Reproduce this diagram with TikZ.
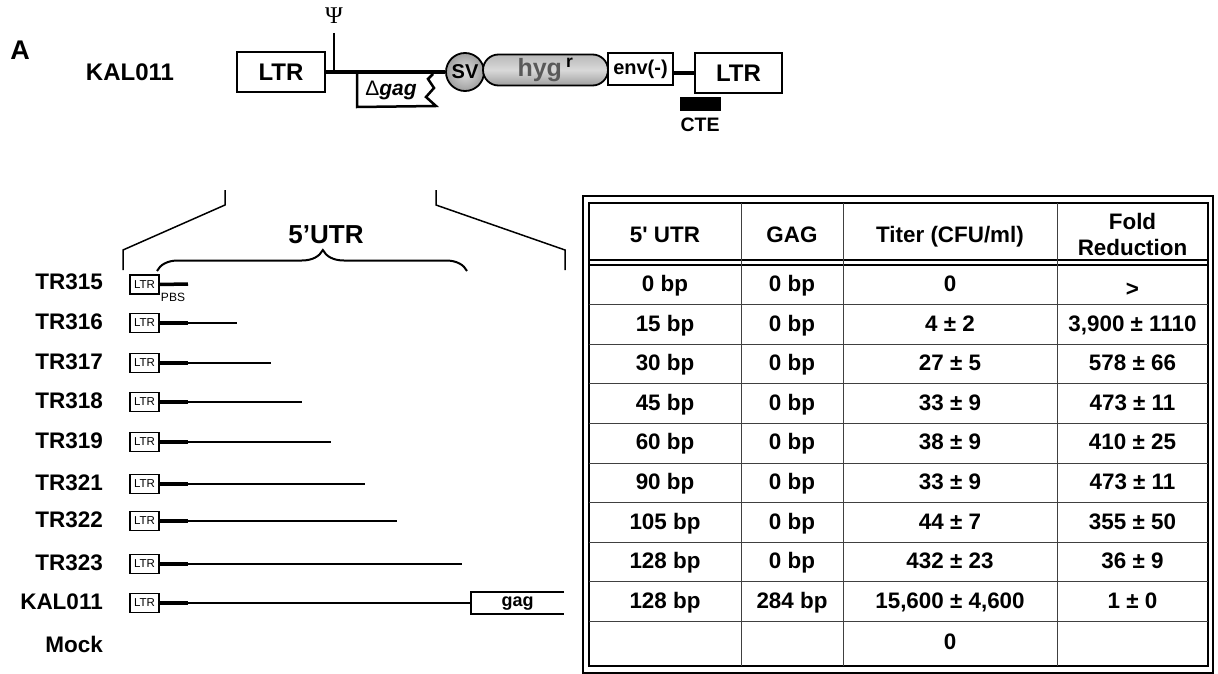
\documentclass[tikz,border=0pt]{standalone}
\usepackage{fontspec}
\setmainfont{Liberation Sans}
\newfontfamily\psifont{Liberation Serif}
\usetikzlibrary{decorations.pathreplacing,shapes.misc}
\newcommand\fsz[1]{\fontsize{#1}{#1}\selectfont}
\newcommand\tabrow[6]{%
  \node[cell] (r#1a) at (665,#2) {#3};
  \node[cell] (r#1b) at (792,#2) {#4};
  \node[cell] (r#1c) at (950,#2) {#5};
  \node[cell] (r#1d) at (1132.5,#2) {#6};
}
\tikzset{
  lab/.style={font=\fsz{22.5}\bfseries, anchor=east, inner sep=0pt},
  box/.style={draw, line width=2pt, inner sep=0pt},
  sltr/.style={draw, line width=1.5pt, minimum width=29pt, minimum height=19pt, inner sep=0pt, font=\fsz{11.5}},
  bb/.style={line width=3.5pt},
  thinl/.style={line width=1.5pt},
  cell/.style={font=\fsz{22.4}\bfseries, inner sep=0pt, text height=16pt, text depth=4.5pt},
  gridl/.style={line width=1pt, draw=black!75},
}
\begin{document}
\begin{tikzpicture}[x=1pt,y=-1pt]
\useasboundingbox (0,0) rectangle (1218,674);

% ---------- top construct ----------
\node[font=\fsz{27}\bfseries] (A) at (20,50) {A};
\node[font=\fsz{24}\bfseries] (kal) at (130,72) {KAL011};
\node[box, minimum width=88pt, minimum height=40pt, font=\fsz{24}\bfseries] (ltrL) at (281,72) {LTR};
\node[font=\psifont\fsz{24}] (psi) at (334,16) {Ψ};
\coordinate (psiT) at (334,33);
\coordinate (psiB) at (334,73);
\draw[line width=2pt] (psiT) -- (psiB);
\node[circle, draw, line width=1.8pt, minimum size=38pt, inner sep=0pt, inner color=gray!25, outer color=gray!75, font=\fsz{20}\bfseries] (sv) at (465,72) {SV};
\draw[bb] (ltrL.east) -- (sv.west);
\coordinate (g1) at (357,72);
\coordinate (g2) at (357,107);
\coordinate (g3) at (436,106);
\coordinate (g4) at (426,97);
\coordinate (g5) at (434,88);
\coordinate (g6) at (428,79);
\coordinate (g7) at (433,74);
\draw[line width=2.5pt, line join=miter] (g1) -- (g2) -- (g3) -- (g4) -- (g5) -- (g6) -- (g7);
\node[font=\fsz{21}\bfseries] (dgag) at (391,90) {{\mdseries Δ}\textit{gag}};
\node[rounded rectangle, draw, line width=1.8pt, minimum width=125pt, minimum height=31pt, inner sep=0pt, top color=gray!55, bottom color=gray!75, middle color=gray!30, font=\fsz{25}\bfseries] (hyg) at (545.5,70) {\textcolor{black!65}{hyg}\,\textsuperscript{r}};
\node[box, line width=1.8pt, minimum width=65pt, minimum height=32pt, font=\fsz{20}\bfseries] (env) at (640.5,69) {env(-)};
\node[box, minimum width=87pt, minimum height=40pt, font=\fsz{24}\bfseries] (ltrR) at (738.5,73) {LTR};
\draw[bb] (ltrR.west -| env.east) -- (ltrR.west);
\node[fill=black, minimum width=41pt, minimum height=14pt, inner sep=0pt] (cte) at (700.5,104) {};
\node[font=\fsz{19.5}\bfseries] (ctel) at (700,125) {CTE};

% ---------- zoom brackets ----------
\coordinate (bL1) at (225,190);
\coordinate (bL2) at (225,205);
\coordinate (bL3) at (123,250);
\coordinate (bL4) at (123,270);
\coordinate (bR1) at (436,190);
\coordinate (bR2) at (436,205);
\coordinate (bR3) at (565,250);
\coordinate (bR4) at (565,270);
\draw[thinl] (bL1) -- (bL2) -- (bL3) -- (bL4);
\draw[thinl] (bR1) -- (bR2) -- (bR3) -- (bR4);
\coordinate (brA) at (157,271);
\coordinate (brB) at (467,271);
\draw[line width=2pt, decorate, decoration={brace, amplitude=21pt, aspect=0.535}] (brA) -- (brB);
\node[font=\fsz{26}\bfseries] (utr) at (326,235) {5’UTR};

% ---------- constructs ----------
\node[lab] (lTR315) at (103,282) {TR315};
\node[sltr] (bTR315) at (144.5,284.5) {LTR};
\coordinate (pTR315) at (188,284);
\draw[bb] (bTR315.east) -- (pTR315);
\node[font=\fsz{12}] (pbs) at (173,297) {PBS};

\foreach \n/\y/\e in {TR316/323/237, TR317/363/271, TR318/402/302, TR319/442/331, TR321/484/365, TR322/521/397, TR323/564/462}{
  \node[lab] (l\n) at (103,\y-1) {\n};
  \node[sltr] (b\n) at (144.5,\y) {LTR};
  \coordinate (p\n) at (188,\y);
  \coordinate (e\n) at (\e,\y);
  \draw[bb] (b\n.east) -- (p\n);
  \draw[thinl] (p\n) -- (e\n);
}
\node[lab] (lKAL) at (103,602) {KAL011};
\node[sltr] (bKAL) at (144.5,603) {LTR};
\coordinate (pKAL) at (188,603);
\coordinate (gagL) at (471,603);
\coordinate (gagA) at (564,592);
\coordinate (gagB) at (471,592);
\coordinate (gagC) at (471,614);
\coordinate (gagD) at (564,614);
\draw[bb] (bKAL.east) -- (pKAL);
\draw[thinl] (pKAL) -- (gagL);
\draw[thinl] (gagA) -- (gagB) -- (gagC) -- (gagD);
\node[font=\fsz{18}\bfseries, text height=13pt, text depth=4pt, inner sep=0pt] (gag) at (517.5,602) {gag};
\node[lab] (lMock) at (103,644) {Mock};

% ---------- table ----------
\draw[line width=1.5pt] (583,196) rectangle (1213,673);
\draw[line width=2pt] (589,203) rectangle (1208,666);
\draw[line width=2pt] (589,260) -- (1208,260);
\draw[line width=1.5pt] (589,265) -- (1208,265);
\foreach \i in {1,...,9}{
  \draw[gridl] (589,265+39.6*\i) -- (1208,265+39.6*\i);
}
\foreach \x in {741,843,1057}{
  \draw[gridl] (\x,203) -- (\x,666);
}
\node[cell] (h1) at (665,237) {5\textquotesingle\ UTR};
\node[cell] (h2) at (792,237) {GAG};
\node[cell] (h3) at (950,237) {Titer (CFU/ml)};
\node[font=\fontsize{22.4}{26}\selectfont\bfseries, inner sep=0pt, align=center] (h4) at (1132.5,234) {Fold\\Reduction};
\node[cell] (r0a) at (665,285.8) {0 bp};
\node[cell] (r0b) at (792,285.8) {0 bp};
\node[cell] (r0c) at (950,285.8) {0};
\node[cell] (r0d) at (1132.5,291) {>};
\tabrow{1}{325.4}{15 bp}{0 bp}{4 ± 2}{3,900 ± 1110}
\tabrow{2}{365}{30 bp}{0 bp}{27 ± 5}{578 ± 66}
\tabrow{3}{404.6}{45 bp}{0 bp}{33 ± 9}{473 ± 11}
\tabrow{4}{444.2}{60 bp}{0 bp}{38 ± 9}{410 ± 25}
\tabrow{5}{483.8}{90 bp}{0 bp}{33 ± 9}{473 ± 11}
\tabrow{6}{523.4}{105 bp}{0 bp}{44 ± 7}{355 ± 50}
\tabrow{7}{563}{128 bp}{0 bp}{432 ± 23}{36 ± 9}
\tabrow{8}{602.6}{128 bp}{284 bp}{15,600 ± 4,600}{1 ± 0}
\node[cell] (r9c) at (950,643.5) {0};
\end{tikzpicture}
\end{document}
